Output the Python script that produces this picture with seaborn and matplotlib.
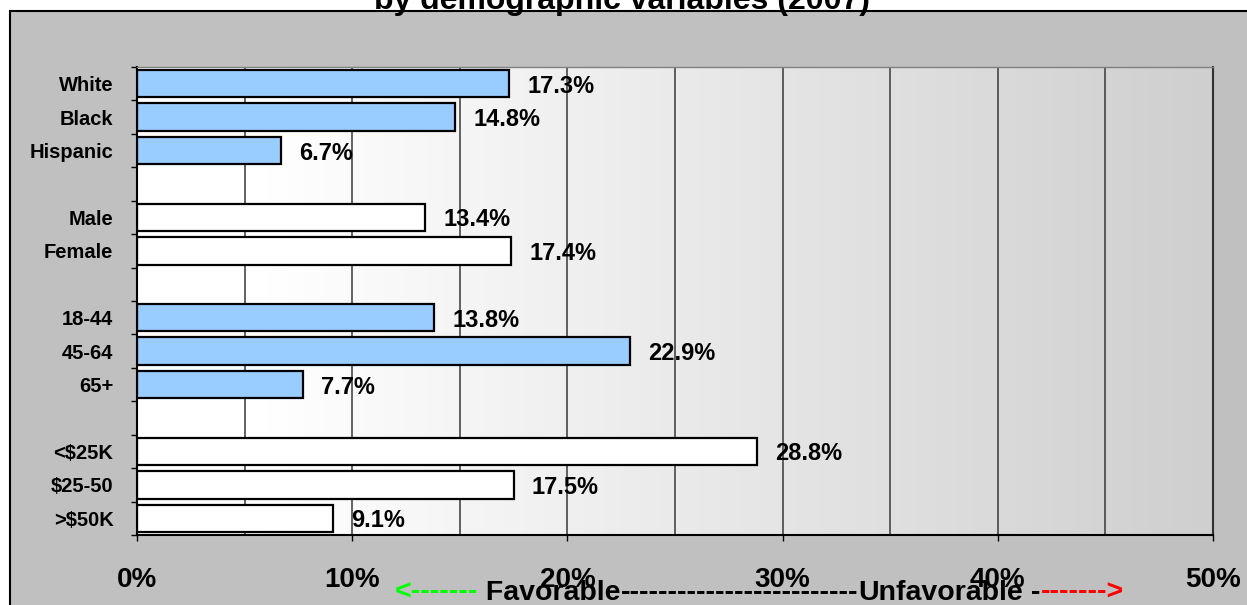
#!/usr/bin/env python3
# coding: utf-8

import numpy as np
import pandas as pd
import seaborn as sns
import matplotlib.pyplot as plt
from matplotlib.patches import Rectangle
from matplotlib.colors import LinearSegmentedColormap
from matplotlib.ticker import MultipleLocator, FixedLocator

# ------------------------------------------------
# Data
# ------------------------------------------------
groups = ["White", "Black", "Hispanic", " ",
          "Male", "Female", "  ",
          "18-44", "45-64", "65+", "   ",
          "<$25K", "$25-50", ">$50K"]
pct = [17.3, 14.8, 6.7, np.nan,
       13.4, 17.4, np.nan,
       13.8, 22.9, 7.7, np.nan,
       28.8, 17.5, 9.1]
fills = ["#99CCFF"] * 3 + ["white"] * 4 + ["#99CCFF"] * 4 + ["white"] * 3
xticks = [0, 10, 20, 30, 40, 50]
title = "by demographic variables (2007)"

df = pd.DataFrame({"group": groups, "pct": pct})

# ------------------------------------------------
# Style
# ------------------------------------------------
sns.set_style("white")
plt.rcParams["font.family"] = ["Liberation Sans", "DejaVu Sans"]
plt.rcParams["font.weight"] = "bold"
for key in ["text.color", "xtick.color", "ytick.color", "axes.labelcolor"]:
    plt.rcParams[key] = "black"

W, H = 1247, 605
fig = plt.figure(figsize=(W / 100, H / 100), dpi=100, facecolor="white")

# grey chart area with black border
fig.patches.append(Rectangle((10 / W, -0.1), 1.2, 1.1 - 11 / H,
                             transform=fig.transFigure, facecolor="#C0C0C0",
                             edgecolor="black", lw=1.5, zorder=-5))
fig.text(0.499, 1 - 9 / H, title, ha="center", va="baseline",
         fontsize=23, fontweight="bold")

ax = fig.add_axes([137 / W, 1 - 535 / H, (1213 - 137) / W, (535 - 67) / H])

# gradient plot area
cmap = LinearSegmentedColormap.from_list(
    "bg", [(0, "white"), (0.12, "white"), (1, "#CFCFCF")])
grad = np.linspace(0, 1, 256).reshape(1, -1)
ax.imshow(grad, extent=[0, 50, 13.5, -0.5], aspect="auto", cmap=cmap, zorder=0)

sns.barplot(data=df, x="pct", y="group", hue="group", order=groups,
            palette=dict(zip(groups, fills)), legend=False, width=0.82,
            saturation=1, edgecolor="black", linewidth=1.6, ax=ax, zorder=2)

for i, v in enumerate(pct):
    if np.isnan(v):
        continue
    ax.annotate(f"{v:.1f}%", xy=(v, i), xytext=(13, 0),
                textcoords="offset points", va="center_baseline", ha="left",
                fontsize=17, fontweight="bold", zorder=5)

ax.set_xlim(0, 50)
ax.set_ylim(13.5, -0.5)
ax.set_xlabel("")
ax.set_ylabel("")

ax.set_xticks(xticks)
ax.set_xticklabels([f"{t}%" for t in xticks], fontsize=20, fontweight="bold")
ax.xaxis.set_minor_locator(MultipleLocator(5))
ax.grid(axis="x", which="both", color="#383838", lw=1.1, zorder=1)
ax.set_axisbelow(True)

ax.set_yticks(range(len(groups)))
ax.set_yticklabels([g.strip() for g in groups], fontsize=14.5,
                   fontweight="bold")
ax.yaxis.set_minor_locator(FixedLocator(np.arange(-0.5, 14, 1)))

ax.tick_params(axis="x", which="major", length=4, width=1, color="black",
               direction="out", pad=19, bottom=True)
ax.tick_params(axis="x", which="minor", length=0)
ax.tick_params(axis="y", which="major", length=0, pad=17)
ax.tick_params(axis="y", which="minor", length=4, width=1, color="black",
               direction="out", left=True)

for side in ["left", "bottom"]:
    ax.spines[side].set_color("black")
    ax.spines[side].set_linewidth(1.5)
ax.spines["top"].set_color("#808080")
ax.spines["top"].set_linewidth(1)
ax.spines["right"].set_color("#303030")
ax.spines["right"].set_linewidth(1.5)

# Favorable / Unfavorable caption at the bottom
pieces = [("<-------", "#00FF00"), (" Favorable", "black"),
          ("-------------------------", "black"), ("Unfavorable", "black"),
          (" -", "black"), ("------->", "#FF0000")]
prev = ax.annotate(pieces[0][0], xy=(395 / W, 1 - 600 / H),
                   xycoords="figure fraction", color=pieces[0][1],
                   fontsize=20.5, fontweight="bold", va="baseline", ha="left",
                   annotation_clip=False)
for txt, col in pieces[1:]:
    prev = ax.annotate(txt, xy=(1, 0), xycoords=prev, color=col,
                       fontsize=20.5, fontweight="bold", va="bottom",
                       ha="left", annotation_clip=False)

plt.savefig("out.png", dpi=100, facecolor=fig.get_facecolor())
